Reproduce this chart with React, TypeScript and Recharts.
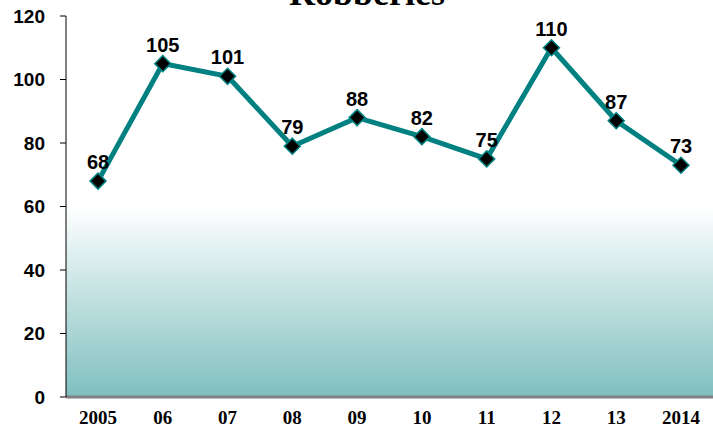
import { LineChart, Line, XAxis, YAxis, CartesianGrid, LabelList } from "recharts";

const years = ["2005", "06", "07", "08", "09", "10", "11", "12", "13", "2014"];
const robberies = [68, 105, 101, 79, 88, 82, 75, 110, 87, 73];
const yTicks = [0, 20, 40, 60, 80, 100, 120];

const data = years.map((year, i) => ({ year, value: robberies[i] }));

const Diamond = (props: any) => {
  const { cx, cy } = props;
  if (cx == null || cy == null) return null;
  const r = 8;
  return (
    <polygon
      points={`${cx},${cy - r} ${cx + r},${cy} ${cx},${cy + r} ${cx - r},${cy}`}
      fill="#000"
      stroke="#008080"
      strokeWidth={1.5}
    />
  );
};

export default function App() {
  return (
    <div style={{ position: "absolute", left: 0, top: 0, width: 713, height: 427 }}>
      <LineChart width={713} height={427} data={data} margin={{ top: 16, right: 0, bottom: 0, left: 0 }}>
        <defs>
          <linearGradient id="bgFade" x1="0" y1="0" x2="0" y2="1">
            <stop offset="0%" stopColor="#ffffff" />
            <stop offset="50%" stopColor="#ffffff" />
            <stop offset="100%" stopColor="#7fbfbf" />
          </linearGradient>
        </defs>
        <text
          x={367}
          y={5}
          textAnchor="middle"
          fontFamily="'Liberation Serif', serif"
          fontWeight="bold"
          fontSize={36}
          fill="#000"
        >
          Robberies
        </text>
        <CartesianGrid horizontal={false} vertical={false} fill="url(#bgFade)" fillOpacity={1} />
        <XAxis
          dataKey="year"
          height={30}
          padding={{ left: 32, right: 32 }}
          axisLine={{ stroke: "#808080", strokeWidth: 3 }}
          tickLine={false}
          tickMargin={8}
          tick={{ fill: "#000", fontSize: 19, fontWeight: "bold", fontFamily: "'Liberation Serif', serif" }}
          interval={0}
        />
        <YAxis
          width={66}
          domain={[0, 120]}
          ticks={yTicks}
          axisLine={{ stroke: "#000", strokeWidth: 1 }}
          tickLine={{ stroke: "#000" }}
          tickSize={6}
          tickMargin={15}
          tick={{ fill: "#000", fontSize: 19, fontWeight: "bold", fontFamily: "'Liberation Sans', Arial, sans-serif" }}
        />
        <Line
          type="linear"
          dataKey="value"
          stroke="#008080"
          strokeWidth={5}
          dot={<Diamond />}
          activeDot={false}
          isAnimationActive={false}
        >
          <LabelList
            dataKey="value"
            position="top"
            offset={12}
            fill="#000"
            fontSize={20}
            fontWeight="bold"
            fontFamily="'Liberation Sans', Arial, sans-serif"
          />
        </Line>
      </LineChart>
    </div>
  );
}
